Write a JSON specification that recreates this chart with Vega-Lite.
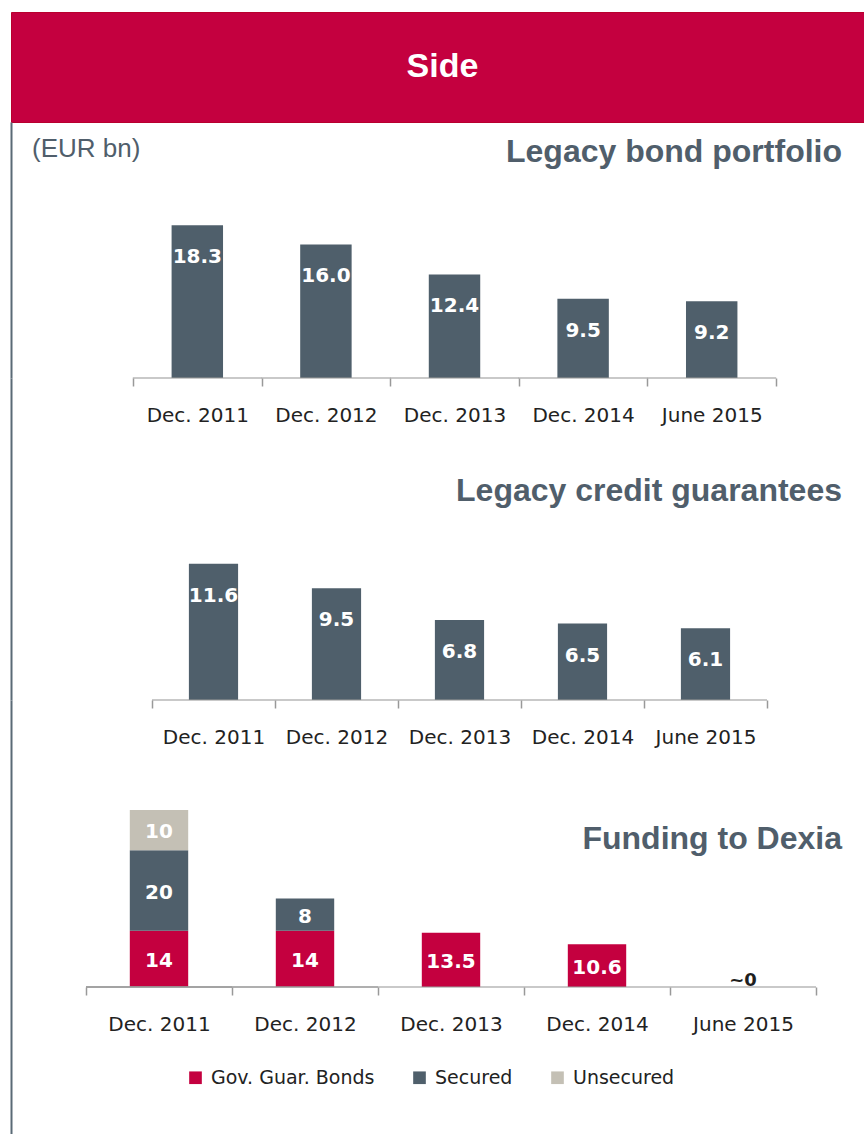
{
  "$schema": "https://vega.github.io/schema/vega-lite/v6.json",
  "padding": {"left": 10, "top": 11, "right": 0, "bottom": 0},
  "background": "white",
  "config": {
    "view": {"stroke": null},
    "axisX": {
      "title": null, "labelAngle": 0, "tickBand": "extent", "domain": false,
      "tickColor": "#999999", "tickWidth": 1.5,
      "tickSize": 8, "labelPadding": 35, "labelBaseline": "alphabetic",
      "labelFont": "DejaVu Sans", "labelFontSize": 20, "labelColor": "#222222", "grid": false
    },
    "axisY": {
      "orient": "left", "domain": true, "domainColor": "#5A6A76", "domainWidth": 2,
      "ticks": false, "labels": false, "title": null, "grid": false
    },
    "title": {"font": "Liberation Sans", "fontSize": 32, "fontWeight": "bold", "color": "#505E6B", "offset": 0, "baseline": "alphabetic", "frame": "group"}
  },
  "datasets": {
    "bond": [
      {"date": "Dec. 2011", "value": 18.3, "label": "18.3"},
      {"date": "Dec. 2012", "value": 16.0, "label": "16.0"},
      {"date": "Dec. 2013", "value": 12.4, "label": "12.4"},
      {"date": "Dec. 2014", "value": 9.5, "label": "9.5"},
      {"date": "June 2015", "value": 9.2, "label": "9.2"}
    ],
    "credit": [
      {"date": "Dec. 2011", "value": 11.6, "label": "11.6"},
      {"date": "Dec. 2012", "value": 9.5, "label": "9.5"},
      {"date": "Dec. 2013", "value": 6.8, "label": "6.8"},
      {"date": "Dec. 2014", "value": 6.5, "label": "6.5"},
      {"date": "June 2015", "value": 6.1, "label": "6.1"}
    ],
    "funding": [
      {"date": "Dec. 2011", "series": "Gov. Guar. Bonds", "value": 14, "label": "14"},
      {"date": "Dec. 2011", "series": "Secured", "value": 20, "label": "20"},
      {"date": "Dec. 2011", "series": "Unsecured", "value": 10, "label": "10"},
      {"date": "Dec. 2012", "series": "Gov. Guar. Bonds", "value": 14, "label": "14"},
      {"date": "Dec. 2012", "series": "Secured", "value": 8, "label": "8"},
      {"date": "Dec. 2013", "series": "Gov. Guar. Bonds", "value": 13.5, "label": "13.5"},
      {"date": "Dec. 2014", "series": "Gov. Guar. Bonds", "value": 10.6, "label": "10.6"},
      {"date": "June 2015", "series": "Gov. Guar. Bonds", "value": 0, "label": "~0"}
    ]
  },
  "bounds": "flush",
  "spacing": 0,
  "vconcat": [
    {
      "width": 853, "height": 110,
      "view": {"fill": "#C4003F", "stroke": "#B8002E", "strokeWidth": 1},
      "title": {"text": "(EUR bn)", "orient": "bottom", "anchor": "start", "dx": 21, "dy": 10, "fontSize": 26, "fontWeight": "normal"},
      "data": {"values": [{"t": "Side"}]},
      "mark": {"type": "text", "font": "Liberation Sans", "fontWeight": "bold", "fontSize": 34, "color": "white", "baseline": "middle", "align": "center", "dx": 5},
      "encoding": {"text": {"field": "t"}}
    },
    {
      "width": 853, "height": 256,
      "title": {"text": "Legacy bond portfolio", "anchor": "end", "dx": -22, "dy": 51},
      "data": {"name": "bond"},
      "encoding": {
        "x": {"field": "date", "type": "nominal", "sort": null, "scale": {"paddingInner": 0, "paddingOuter": 0.8165, "align": 0.581}}
      },
      "layer": [
        {"mark": {"type": "bar", "width": {"band": 0.4}, "color": "#4F5F6B"},
         "encoding": {"y": {"field": "value", "type": "quantitative", "scale": {"domain": [0, 30.66], "nice": false}}}},
        {"mark": {"type": "tick", "orient": "horizontal", "color": "#999999", "size": 129, "thickness": 1.5},
         "encoding": {"y": {"datum": 0, "type": "quantitative"}}},
        {"mark": {"type": "text", "baseline": "alphabetic", "dy": 38, "font": "DejaVu Sans", "fontWeight": "bold", "fontSize": 20, "color": "white"},
         "encoding": {"y": {"field": "value", "type": "quantitative"}, "text": {"field": "label"}}}
      ]
    },
    {
      "width": 853, "height": 322,
      "title": {"text": "Legacy credit guarantees", "anchor": "end", "dx": -22, "dy": 134},
      "data": {"name": "credit"},
      "encoding": {
        "x": {"field": "date", "type": "nominal", "sort": null, "scale": {"paddingInner": 0, "paddingOuter": 0.9675, "align": 0.5924}}
      },
      "layer": [
        {"mark": {"type": "bar", "width": {"band": 0.4}, "color": "#4F5F6B"},
         "encoding": {"y": {"field": "value", "type": "quantitative", "scale": {"domain": [0, 27.4], "nice": false}}}},
        {"mark": {"type": "tick", "orient": "horizontal", "color": "#999999", "size": 123, "thickness": 1.5},
         "encoding": {"y": {"datum": 0, "type": "quantitative"}}},
        {"mark": {"type": "text", "baseline": "alphabetic", "dy": 38, "font": "DejaVu Sans", "fontWeight": "bold", "fontSize": 20, "color": "white"},
         "encoding": {"y": {"field": "value", "type": "quantitative"}, "text": {"field": "label"}}}
      ]
    },
    {
      "width": 853, "height": 435,
      "title": {"text": "Funding to Dexia", "anchor": "end", "dx": -22, "dy": 160},
      "data": {"name": "funding"},
      "encoding": {
        "x": {"field": "date", "type": "nominal", "sort": null, "scale": {"paddingInner": 0, "paddingOuter": 0.4212, "align": 0.6098}, "axis": {"offset": -148}}
      },
      "layer": [
        {
          "mark": {"type": "bar", "width": {"band": 0.4}},
          "encoding": {
            "y": {"field": "value", "type": "quantitative", "stack": "zero", "scale": {"domain": [-36.82, 71.39], "nice": false, "zero": false}},
            "order": {"field": "series", "type": "nominal", "sort": "ascending"},
            "color": {
              "field": "series", "type": "nominal",
              "scale": {"domain": ["Gov. Guar. Bonds", "Secured", "Unsecured"], "range": ["#C4003F", "#4F5F6B", "#C4C0B5"]},
              "legend": {
                "title": null, "orient": "none", "direction": "horizontal",
                "legendX": 175, "legendY": 1056, "padding": 0,
                "symbolType": "square", "symbolSize": 160, "symbolStrokeWidth": 0,
                "labelFont": "DejaVu Sans", "labelFontSize": 19, "labelColor": "#222222", "labelLimit": 400,
                "labelOffset": 6, "columnPadding": 35
              }
            }
          }
        },
        {"mark": {"type": "tick", "orient": "horizontal", "color": "#999999", "size": 146, "thickness": 1.5},
         "encoding": {"y": {"datum": 0, "type": "quantitative"}}},
        {
          "transform": [{"filter": "datum.value > 0"}],
          "mark": {"type": "text", "baseline": "middle", "dy": 2, "font": "DejaVu Sans", "fontWeight": "bold", "fontSize": 20, "color": "white"},
          "encoding": {
            "y": {"field": "value", "type": "quantitative", "stack": "zero", "bandPosition": 0.5},
            "order": {"field": "series", "type": "nominal", "sort": "ascending"},
            "detail": {"field": "series"},
            "text": {"field": "label"}
          }
        },
        {
          "transform": [{"filter": "datum.value == 0"}],
          "mark": {"type": "text", "baseline": "alphabetic", "dy": -1, "font": "DejaVu Sans", "fontWeight": "bold", "fontSize": 18, "color": "#1F1F1F"},
          "encoding": {
            "y": {"field": "value", "type": "quantitative", "stack": null},
            "text": {"field": "label"}
          }
        }
      ]
    }
  ]
}
